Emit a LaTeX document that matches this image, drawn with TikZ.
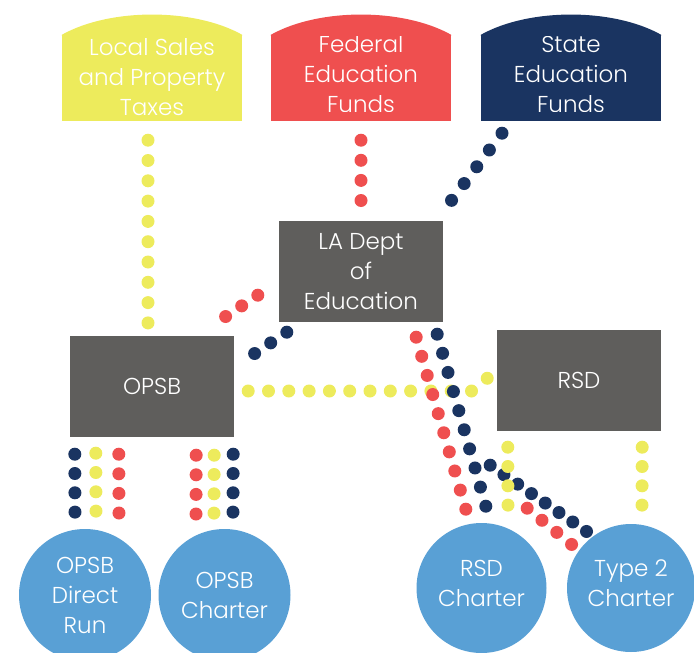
\documentclass[tikz,border=0pt]{standalone}
\usepackage{fontspec}
\setmainfont{Poppins Light}
\usetikzlibrary{calc}
\definecolor{fundyellow}{HTML}{EDEB5C}
\definecolor{fundred}{HTML}{EF4F4F}
\definecolor{fundnavy}{HTML}{1A3461}
\definecolor{boxgray}{HTML}{5F5E5C}
\definecolor{schoolblue}{HTML}{59A0D5}

\begin{document}
\begin{tikzpicture}[x=1pt,y=-1pt]
\tikzstyle{fund}= [rectangle,minimum width=180pt,inner sep=0pt,text=white,align=center,font=\fontsize{23}{30}\selectfont]
\tikzstyle{agency}= [rectangle,fill=boxgray,minimum width=164pt,minimum height=101pt,inner sep=0pt,text=white,align=center,font=\fontsize{23}{30}\selectfont]
\tikzstyle{school}= [circle,fill=schoolblue,inner sep=0pt,text=white,align=center,font=\fontsize{23}{30}\selectfont]
\tikzset{dotrow/.style={line width=13pt,line cap=round,dash pattern=on 0pt off #1}}

\clip (0,0) rectangle (694,653);

\path
	(152,77) node[fund,fill=fundyellow,minimum height=84pt] (local) {Local Sales\\and Property\\Taxes}
	(361,74) node[fund,fill=fundred,minimum height=78pt] (federal) {Federal\\Education\\Funds}
	(571,74) node[fund,fill=fundnavy,minimum height=78pt] (state) {State\\Education\\Funds}
	(361,271.5) node[agency] (ladept) {LA Dept\\of\\Education}
	(152,386.5) node[agency] (opsb) {OPSB}
	(579,380.5) node[agency] (rsd) {RSD}
	(85,595) node[school,minimum size=132pt] (opsbdr) {OPSB\\Direct\\Run}
	(224.5,595) node[school,minimum size=132pt] (opsbch) {OPSB\\Charter}
	(481.5,588) node[school,minimum size=130pt,text depth=10pt] (rsdch) {RSD\\Charter}
	(631,588) node[school,minimum size=128pt,text depth=9pt] (type2) {Type 2\\Charter}
;
\coordinate (fundbase) at (0,121);
% arched tops and bottom strips of the fund boxes
\foreach \f/\c in {local/fundyellow,federal/fundred,state/fundnavy}{
	\fill[\c] ($(\f.north west)+(0,1)$) -- (\f.north west)
		.. controls ($(\f.north west)+(48,-27)$) and ($(\f.north east)+(-48,-27)$) .. (\f.north east)
		-- ($(\f.north east)+(0,1)$) -- cycle;
	\fill[\c] ($(\f.south west)+(0,-1)$) rectangle (\f.south east |- fundbase);
}

\coordinate (navyfork) at ($(ladept.south east)+(47,143)$);
\coordinate (redfork) at ($(ladept.south east)+(84,186)$);

% funds into the agencies
\draw[dotrow=20.3pt,fundyellow] ($(local.south)+(-4,21)$) -- ($(opsb.north)+(-4,-12)$);
\draw[dotrow=20.1pt,fundred] ($(federal.south)+(0,27)$) -- ($(ladept.north)+(0,-19.5)$);
\draw[dotrow=21pt,fundnavy] ($(state.south)+(-69,20)$) -- ($(ladept.north east)+(8,-20)$);
\draw[dotrow=19.3pt,fundred] ($(ladept.south west)+(-21,-27)$) -- ($(opsb.north east)+(-9,-19)$);
\draw[dotrow=19.3pt,fundnavy] ($(ladept.south west)+(8,10)$) -- ($(opsb.north east)+(20,18)$);
\draw[dotrow=20.3pt,fundyellow] ($(opsb.east)+(14,4.5)$) -- ($(rsd.west)+(-25,10.5)$) -- ($(rsd.west)+(-8,-3.5)$);

% OPSB schools
\draw[dotrow=19.3pt,fundnavy] ($(opsb.south west)+(5,17)$) -- ($(opsbdr.north)+(-10,-16)$);
\draw[dotrow=19.3pt,fundyellow] ($(opsb.south west)+(26,16)$) -- ($(opsbdr.north)+(11,-17)$);
\draw[dotrow=19.6pt,fundred] ($(opsb.south west)+(49,17)$) -- ($(opsbdr.north)+(34,-15)$);
\draw[dotrow=19.6pt,fundred] ($(opsb.south east)+(-38,18)$) -- ($(opsbch.north)+(-28.5,-14)$);
\draw[dotrow=19.3pt,fundyellow] ($(opsb.south east)+(-20,18)$) -- ($(opsbch.north)+(-10.5,-15)$);
\draw[dotrow=19.3pt,fundnavy] ($(opsb.south east)+(-1,17)$) -- ($(opsbch.north)+(8.5,-16)$);

% RSD side
\draw[dotrow=19.89pt,fundred] ($(ladept.south east)+(-27,15)$) -- ($(rsdch.north)+(-15.5,-13)$);
\draw[dotrow=19.86pt,fundnavy] ($(ladept.south east)+(-6,12)$) -- ($(rsdch.north)+(4.5,-16)$);
\draw[dotrow=16.7pt,fundnavy] (navyfork) -- ($(type2.north)+(-44,8)$);
\draw[dotrow=19.1pt,fundred] (redfork) -- ($(type2.north)+(-59,21)$);
\draw[dotrow=19.3pt,fundyellow] ($(rsd.south west)+(11,16)$) -- ($(rsdch.north)+(26.5,-17)$);
\draw[dotrow=19.3pt,fundyellow] ($(rsd.south east)+(-19,16)$) -- ($(type2.north)+(11,-18)$);
\end{tikzpicture}
\end{document}
